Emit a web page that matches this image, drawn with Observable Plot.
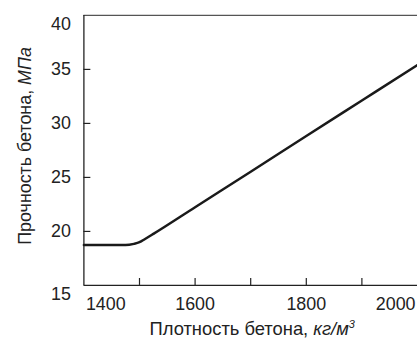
<!DOCTYPE html>
<html><head><meta charset="utf-8">
<script src="https://cdn.jsdelivr.net/npm/d3@7"></script>
<script src="https://cdn.jsdelivr.net/npm/@observablehq/plot@0.6"></script>
<style>
body{margin:0;overflow:hidden;background:#fff}
#chart svg{font-family:"Liberation Sans",Arial,sans-serif;display:block}
</style>
</head><body><div id="chart"></div>
<script>
const density  = [1400, 1475, 1490, 1500, 1510, 1525, 1600, 1700, 1800, 1900, 2000];
const strength = [18.74, 18.74, 18.85, 19.0, 19.3, 19.77, 22.24, 25.53, 28.83, 32.12, 35.41];
const xTicks = [1500, 1600, 1700, 1800, 1900];
const xLabels = [1400, 1600, 1800, 2000];
const yTicks = [20, 25, 30, 35];
const yLabels = [15, 20, 25, 30, 35, 40];
const xTitle = ["Плотность бетона, ", "кг/м", "3"];
const yTitle = ["Прочность бетона, ", "МПа"];

const data = density.map((d, i) => ({density: d, strength: strength[i]}));
const W = 420, H = 343, mL = 84, mR = 0, mT = 15, mB = 56;
const plotW = W - mL - mR, plotH = H - mT - mB;
const ink = "#222";
const fs = 18;

const chart = Plot.plot({
  width: W, height: H,
  marginLeft: mL, marginRight: mR, marginTop: mT, marginBottom: mB,
  x: {domain: [1400, 2000], axis: null},
  y: {domain: [15, 40], axis: null},
  style: {fontSize: fs + "px", fontFamily: '"Liberation Sans", Arial, sans-serif', color: ink},
  marks: [
    Plot.ruleY([15], {stroke: ink, strokeWidth: 1.3}),
    Plot.ruleY([40], {stroke: "#555", strokeWidth: 1.3}),
    Plot.ruleX([1400], {stroke: ink, strokeWidth: 1.3}),
    Plot.tickX(xTicks, {x: d => d, stroke: ink, strokeWidth: 1.2, insetTop: plotH - 7}),
    Plot.tickY(yTicks, {y: d => d, stroke: ink, strokeWidth: 1.2, insetRight: plotW - 7}),
    Plot.text(xLabels.slice(0, 1), {x: d => d, y: 15, text: d => String(d), dy: 19, dx: 2, textAnchor: "start", fill: ink, fontSize: fs}),
    Plot.text(xLabels.slice(1, -1), {x: d => d, y: 15, text: d => String(d), dy: 19, fill: ink, fontSize: fs}),
    Plot.text(xLabels.slice(-1), {x: d => d, y: 15, text: d => String(d), dy: 19, dx: -2, textAnchor: "end", fill: ink, fontSize: fs}),
    Plot.text(yLabels.filter(v => v !== 15 && v !== 40), {x: 1400, y: d => d, text: d => String(d), dx: -13, textAnchor: "end", fill: ink, fontSize: fs}),
    Plot.text(yLabels.filter(v => v === 15 || v === 40), {x: 1400, y: d => d, text: d => String(d), dx: -13, dy: 9, textAnchor: "end", fill: ink, fontSize: fs}),
    Plot.line(data, {x: "density", y: "strength", curve: "monotone-x", stroke: "#1a1a1a", strokeWidth: 2.5})
  ]
});
document.getElementById("chart").append(chart);

const svg = d3.select(chart);
const xt = svg.append("text")
  .attr("x", 254).attr("y", 337)
  .attr("text-anchor", "middle").attr("fill", ink)
  .style("font-size", "18.5px");
xt.append("tspan").text(xTitle[0]);
xt.append("tspan").style("font-style", "italic").text(xTitle[1]);
xt.append("tspan").style("font-style", "italic").style("font-size", "11px").attr("dy", -7).text(xTitle[2]);

const yt = svg.append("text")
  .attr("transform", "translate(31,147) rotate(-90)")
  .attr("text-anchor", "middle").attr("fill", ink)
  .style("font-size", "18px");
yt.append("tspan").text(yTitle[0]);
yt.append("tspan").style("font-style", "italic").text(yTitle[1]);
</script>
</body></html>
